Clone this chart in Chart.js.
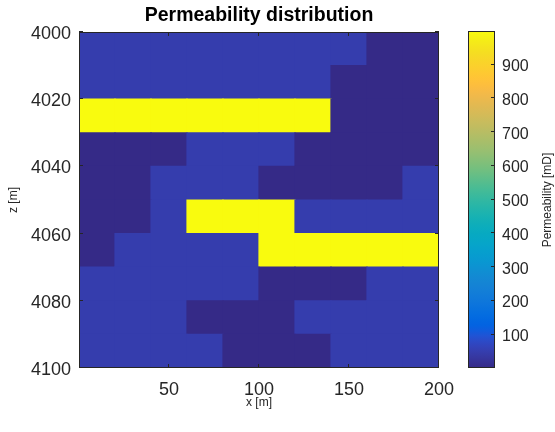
<!DOCTYPE html>
<html>
<head>
<meta charset="utf-8">
<title>Permeability distribution</title>
<script src="https://cdn.jsdelivr.net/npm/chart.js@4.4.1/dist/chart.umd.min.js"></script>
<style>
  html, body { margin: 0; padding: 0; background: #fff; }
  #wrap { position: relative; width: 555px; height: 432px; }
  #wrap canvas { position: absolute; left: 0; top: 0; }
</style>
</head>
<body>
<div id="wrap">
  <canvas id="permChart" width="555" height="432"></canvas>
  <canvas id="barChart" width="555" height="432"></canvas>
</div>
<script>
// Grid: 10 columns of 20 m, 10 layers of 10 m
const colLeft = [0, 20, 40, 60, 80, 100, 120, 140, 160, 180];
const cellWidth = 20;
const layerDepth = [4005, 4015, 4025, 4035, 4045, 4055, 4065, 4075, 4085, 4095];

// Permeability [mD] per layer, left to right
const layer1  = [50, 50, 50, 50, 50, 50, 50, 50, 1, 1];
const layer2  = [50, 50, 50, 50, 50, 50, 50, 1, 1, 1];
const layer3  = [1000, 1000, 1000, 1000, 1000, 1000, 1000, 1, 1, 1];
const layer4  = [1, 1, 1, 50, 50, 50, 1, 1, 1, 1];
const layer5  = [1, 1, 50, 50, 50, 1, 1, 1, 1, 50];
const layer6  = [1, 1, 50, 1000, 1000, 1000, 50, 50, 50, 50];
const layer7  = [1, 50, 50, 50, 50, 1000, 1000, 1000, 1000, 1000];
const layer8  = [50, 50, 50, 50, 50, 1, 1, 1, 50, 50];
const layer9  = [50, 50, 50, 1, 1, 1, 50, 50, 50, 50];
const layer10 = [50, 50, 50, 50, 1, 1, 1, 50, 50, 50];
const layers = [layer1, layer2, layer3, layer4, layer5, layer6, layer7, layer8, layer9, layer10];

const xTicks = [50, 100, 150, 200];
const zTicks = [4000, 4020, 4040, 4060, 4080, 4100];
const barTicks = [100, 200, 300, 400, 500, 600, 700, 800, 900];
const permMin = 1;
const permMax = 1000;

// parula colormap (64 entries)
const parula = [
  [0.2081,0.1663,0.5292],[0.2116,0.1898,0.5777],[0.2123,0.2138,0.6270],[0.2081,0.2386,0.6771],
  [0.1959,0.2645,0.7279],[0.1707,0.2919,0.7792],[0.1253,0.3242,0.8303],[0.0591,0.3598,0.8683],
  [0.0117,0.3875,0.8820],[0.0060,0.4086,0.8828],[0.0165,0.4266,0.8786],[0.0329,0.4430,0.8720],
  [0.0498,0.4586,0.8641],[0.0629,0.4737,0.8554],[0.0723,0.4887,0.8467],[0.0779,0.5040,0.8384],
  [0.0793,0.5200,0.8312],[0.0749,0.5375,0.8263],[0.0641,0.5570,0.8240],[0.0488,0.5772,0.8228],
  [0.0343,0.5966,0.8199],[0.0265,0.6137,0.8135],[0.0239,0.6287,0.8038],[0.0231,0.6418,0.7913],
  [0.0228,0.6535,0.7768],[0.0267,0.6642,0.7607],[0.0384,0.6743,0.7436],[0.0590,0.6838,0.7254],
  [0.0843,0.6928,0.7062],[0.1133,0.7015,0.6859],[0.1453,0.7098,0.6646],[0.1801,0.7177,0.6424],
  [0.2178,0.7250,0.6193],[0.2586,0.7317,0.5954],[0.3022,0.7376,0.5712],[0.3482,0.7424,0.5473],
  [0.3953,0.7459,0.5244],[0.4420,0.7481,0.5033],[0.4871,0.7491,0.4840],[0.5300,0.7491,0.4661],
  [0.5709,0.7485,0.4494],[0.6099,0.7473,0.4337],[0.6473,0.7456,0.4188],[0.6834,0.7435,0.4044],
  [0.7184,0.7411,0.3905],[0.7525,0.7384,0.3768],[0.7858,0.7356,0.3633],[0.8185,0.7327,0.3498],
  [0.8507,0.7299,0.3360],[0.8824,0.7274,0.3217],[0.9139,0.7258,0.3063],[0.9450,0.7261,0.2886],
  [0.9739,0.7314,0.2666],[0.9938,0.7455,0.2403],[0.9990,0.7653,0.2164],[0.9955,0.7861,0.1967],
  [0.9880,0.8066,0.1794],[0.9789,0.8271,0.1633],[0.9697,0.8481,0.1475],[0.9626,0.8705,0.1309],
  [0.9589,0.8949,0.1132],[0.9598,0.9218,0.0948],[0.9661,0.9514,0.0755],[0.9763,0.9831,0.0538]
];

function rgb(c) {
  return 'rgb(' + c.map(v => Math.round(v * 255)).join(',') + ')';
}

function permColor(v) {
  const t = (v - permMin) / (permMax - permMin);
  const i = Math.max(0, Math.min(63, Math.floor(t * 64)));
  return rgb(parula[i]);
}

const AXIS = '#262626';
Chart.defaults.font.family = '"Liberation Sans", Arial, Helvetica, sans-serif';
Chart.defaults.color = AXIS;

// one floating horizontal bar per grid cell
const cells = [];
layers.forEach((row, i) => {
  row.forEach((k, j) => {
    cells.push({ y: layerDepth[i], x: [colLeft[j], colLeft[j] + cellWidth], k: k });
  });
});

// box around the plot area with inward ticks (MATLAB style)
const framePlugin = {
  id: 'frame',
  afterDraw(chart, args, opts) {
    const { ctx, chartArea: a } = chart;
    const len = 4;
    ctx.save();
    ctx.strokeStyle = AXIS;
    ctx.lineWidth = 1;
    ctx.strokeRect(a.left + 0.5, a.top + 0.5, a.right - a.left - 1, a.bottom - a.top - 1);
    ctx.beginPath();
    (opts.xScale ? chart.scales[opts.xScale].ticks : []).forEach(t => {
      const px = Math.round(chart.scales[opts.xScale].getPixelForValue(t.value)) - 0.5;
      ctx.moveTo(px, a.bottom); ctx.lineTo(px, a.bottom - len);
      ctx.moveTo(px, a.top); ctx.lineTo(px, a.top + len);
    });
    const ys = chart.scales[opts.yScale];
    ys.ticks.forEach(t => {
      const py = Math.round(ys.getPixelForValue(t.value)) - 0.5;
      if (opts.leftTicks) { ctx.moveTo(a.left, py); ctx.lineTo(a.left + len, py); }
      ctx.moveTo(a.right, py); ctx.lineTo(a.right - len, py);
    });
    ctx.stroke();
    if (opts.sideTitle) {
      ctx.fillStyle = AXIS;
      ctx.font = '12px "Liberation Sans", Arial, sans-serif';
      ctx.textAlign = 'center';
      ctx.textBaseline = 'middle';
      ctx.translate(opts.sideTitle.x, opts.sideTitle.y);
      ctx.rotate(-Math.PI / 2);
      ctx.fillText(opts.sideTitle.text, 0, 0);
    }
    ctx.restore();
  }
};

const plain = v => String(v);

new Chart(document.getElementById('permChart'), {
  type: 'bar',
  data: {
    datasets: [{
      data: cells,
      backgroundColor: ctx => permColor(ctx.raw ? ctx.raw.k : permMin),
      borderWidth: 0,
      inflateAmount: 0.6,
      barPercentage: 1,
      categoryPercentage: 1
    }]
  },
  options: {
    responsive: false,
    animation: false,
    indexAxis: 'y',
    layout: { padding: { left: 0, right: 116, top: 0, bottom: 0 } },
    plugins: {
      legend: { display: false },
      tooltip: { enabled: false },
      title: {
        display: true,
        text: 'Permeability distribution',
        fullSize: false,
        color: '#000',
        font: { size: 19.5, weight: 'bold' },
        padding: { top: 3.5, bottom: 5.1 }
      },
      frame: { xScale: 'x', yScale: 'y', leftTicks: true }
    },
    scales: {
      x: {
        type: 'linear',
        min: 0,
        max: 200,
        afterBuildTicks: s => { s.ticks = xTicks.map(v => ({ value: v })); },
        afterFit: s => { s.height = 64; },
        grid: { display: false, drawTicks: false },
        border: { display: false },
        ticks: { font: { size: 18 }, padding: 11, maxRotation: 0, callback: plain },
        title: { display: true, text: 'x [m]', font: { size: 12 }, padding: { top: 0, bottom: 22 } }
      },
      y: {
        type: 'linear',
        reverse: true,
        offset: false,
        min: 4000,
        max: 4100,
        afterBuildTicks: s => { s.ticks = zTicks.map(v => ({ value: v })); },
        afterFit: s => { s.width = 79; },
        grid: { display: false, drawTicks: false, offset: false },
        border: { display: false },
        ticks: { font: { size: 18 }, padding: 8, labelOffset: 2, callback: plain },
        title: { display: true, text: 'z [m]', font: { size: 12 }, padding: { top: 6, bottom: 0 } }
      }
    }
  },
  plugins: [framePlugin]
});

// colorbar
function barGradient(chart) {
  const a = chart.chartArea;
  if (!a) return rgb(parula[0]);
  const g = chart.ctx.createLinearGradient(0, a.bottom, 0, a.top);
  parula.forEach((c, i) => g.addColorStop(i / (parula.length - 1), rgb(c)));
  return g;
}

new Chart(document.getElementById('barChart'), {
  type: 'bar',
  data: {
    labels: ['k'],
    datasets: [{
      data: [[permMin, permMax]],
      backgroundColor: ctx => barGradient(ctx.chart),
      borderWidth: 0,
      barPercentage: 1,
      categoryPercentage: 1
    }]
  },
  options: {
    responsive: false,
    animation: false,
    layout: { padding: { left: 468, right: 0, top: 31, bottom: 64 } },
    plugins: {
      legend: { display: false },
      tooltip: { enabled: false },
      frame: { yScale: 'y', leftTicks: false, sideTitle: { text: 'Permeability [mD]', x: 548, y: 200 } }
    },
    scales: {
      x: { display: false },
      y: {
        position: 'right',
        min: permMin,
        max: permMax,
        afterBuildTicks: s => { s.ticks = barTicks.map(v => ({ value: v })); },
        afterFit: s => { s.width = 60; },
        grid: { display: false, drawTicks: false },
        border: { display: false },
        ticks: { font: { size: 16 }, padding: 7, labelOffset: 2, callback: plain }
      }
    }
  },
  plugins: [framePlugin]
});
</script>
</body>
</html>
